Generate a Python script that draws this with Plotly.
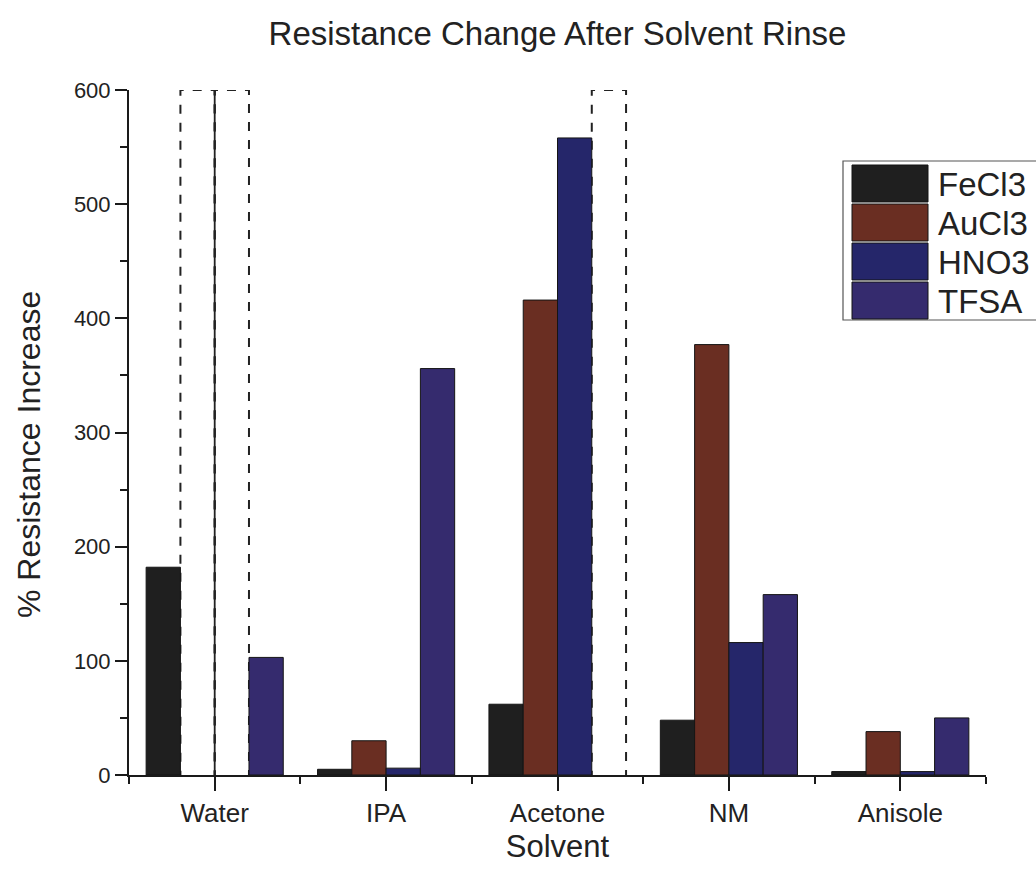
import plotly.graph_objects as go

# Solvents on the x axis, dopant series as grouped bars
solvents = ["Water", "IPA", "Acetone", "NM", "Anisole"]
dopants = ["FeCl3", "AuCl3", "HNO3", "TFSA"]

# % resistance increase; None = value ran past the top of the axis
fecl3 = [182, 5, 62, 48, 3]
aucl3 = [None, 30, 416, 377, 38]
hno3 = [None, 6, 558, 116, 3]
tfsa = [103, 356, None, 158, 50]

series = [fecl3, aucl3, hno3, tfsa]
colors = ["#1f1f1f", "#6a2e22", "#25266a", "#352b6e"]

y_max = 600
y_ticks = [0, 100, 200, 300, 400, 500, 600]

FONT = "Liberation Sans, Arial, sans-serif"
TEXT = "#222222"

W, H = 1036, 875
L, R, T, B = 129, 50, 90, 100
PW, PH = W - L - R, H - T - B

bargap = 0.2
n = len(series)
bw = (1 - bargap) / n
x_idx = list(range(len(solvents)))

fig = go.Figure()
for name, vals, col in zip(dopants, series, colors):
    fig.add_trace(go.Bar(
        x=x_idx, y=vals, name=name,
        marker=dict(color=col, line=dict(color="#151515", width=1)),
        showlegend=False,
    ))

# Off-scale samples: dashed outline up to the top of the axis
shapes = []
for k, vals in enumerate(series):
    off = -(1 - bargap) / 2 + bw * (k + 0.5)
    for i, v in enumerate(vals):
        if v is None:
            shapes.append(dict(
                type="rect", xref="x", yref="y", layer="below",
                x0=i + off - bw / 2, x1=i + off + bw / 2, y0=-5, y1=y_max,
                line=dict(color="#222222", width=2, dash="dash"),
                fillcolor="rgba(0,0,0,0)",
            ))
            # shared edge between two neighbouring off-scale bars
            if k + 1 < n and series[k + 1][i] is None:
                shapes.append(dict(
                    type="line", xref="x", yref="y",
                    x0=i + off + bw / 2, x1=i + off + bw / 2, y0=0, y1=y_max,
                    line=dict(color="#222222", width=1.8),
                ))


def px_x(px):
    return (px - L) / PW


def px_y(py):
    return (H - B - py) / PH


# Legend with large swatches
leg_left, leg_top, leg_bottom = 843, 161, 320
shapes.append(dict(
    type="rect", xref="paper", yref="paper",
    x0=px_x(leg_left), x1=px_x(1045), y0=px_y(leg_bottom), y1=px_y(leg_top),
    line=dict(color="#555555", width=1.2), fillcolor="white", layer="above",
))
annotations = []
row_h = 39
for k, (name, col) in enumerate(zip(dopants, colors)):
    top = 165 + k * row_h
    shapes.append(dict(
        type="rect", xref="paper", yref="paper",
        x0=px_x(852), x1=px_x(928), y0=px_y(top + 37), y1=px_y(top),
        line=dict(color="#151515", width=1), fillcolor=col, layer="above",
    ))
    annotations.append(dict(
        xref="paper", yref="paper", x=px_x(936), y=px_y(top + 19),
        text=name, showarrow=False, xanchor="left", yanchor="middle",
        font=dict(family=FONT, size=33, color=TEXT),
    ))

# y-axis title
annotations.append(dict(
    xref="paper", yref="paper", x=px_x(29), y=px_y(455),
    text="% Resistance Increase", showarrow=False, textangle=-90,
    xanchor="center", yanchor="middle",
    font=dict(family=FONT, size=32, color=TEXT),
))

fig.update_layout(
    width=W, height=H,
    margin=dict(l=L, r=R, t=T, b=B, pad=0),
    paper_bgcolor="white", plot_bgcolor="white",
    barmode="group", bargap=bargap, bargroupgap=0,
    font=dict(family=FONT, color=TEXT),
    title=dict(
        text="Resistance Change After Solvent Rinse",
        x=0.5, xref="paper", xanchor="center",
        y=1 - 33 / H, yanchor="middle",
        font=dict(family=FONT, size=33, color=TEXT),
    ),
    xaxis=dict(
        range=[-0.5, len(solvents) - 0.5],
        tickmode="array", tickvals=x_idx, ticktext=solvents,
        ticks="outside", ticklen=14, tickwidth=2, tickcolor="#1a1a1a",
        minor=dict(tickmode="array",
                   tickvals=[i - 0.5 for i in range(len(solvents) + 1)],
                   ticks="outside", ticklen=7, tickwidth=2, tickcolor="#1a1a1a"),
        showline=True, linecolor="#1a1a1a", linewidth=2,
        showgrid=False, zeroline=False,
        tickfont=dict(family=FONT, size=26, color=TEXT),
        title=dict(text="Solvent", standoff=8,
                   font=dict(family=FONT, size=31, color=TEXT)),
    ),
    yaxis=dict(
        range=[0, y_max],
        tickmode="array", tickvals=y_ticks,
        ticks="outside", ticklen=12, tickwidth=2, tickcolor="#1a1a1a",
        minor=dict(dtick=50, tick0=0, ticks="outside", ticklen=7,
                   tickwidth=2, tickcolor="#1a1a1a"),
        showline=True, linecolor="#1a1a1a", linewidth=2,
        showgrid=False, zeroline=False,
        tickfont=dict(family=FONT, size=22, color=TEXT),
    ),
    shapes=shapes,
    annotations=annotations,
)

fig.write_html("out.html")
